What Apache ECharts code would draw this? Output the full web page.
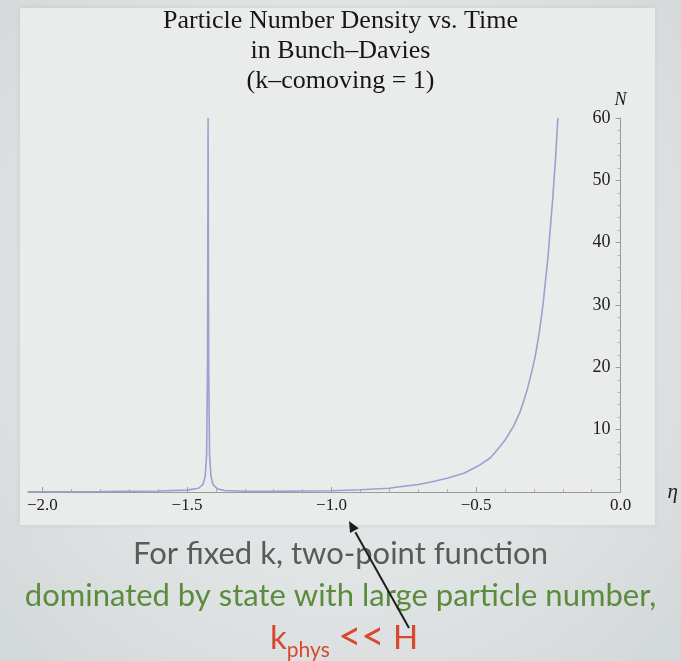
<!DOCTYPE html>
<html>
<head>
<meta charset="utf-8">
<script src="https://cdn.jsdelivr.net/npm/echarts@6/dist/echarts.min.js"></script>
<style>
html,body{margin:0;padding:0;width:681px;height:661px;overflow:hidden;
background:radial-gradient(ellipse at 50% 45%, #e8eaea 0%, #e1e4e4 55%, #d2d7d9 100%);}
#c{width:681px;height:661px;}
</style>
</head>
<body>
<div id="c"></div>
<script>
// conformal time eta and particle number N
const eta = [-2.05,-1.8,-1.6,-1.5,-1.46,-1.445,-1.437,-1.432,-1.429,-1.427,-1.425,-1.422,-1.417,-1.41,-1.395,-1.37,-1.3,-1.2,-1.1,-1.0,-0.9,-0.8,-0.77,-0.7,-0.656,-0.6,-0.542,-0.5,-0.485,-0.45,-0.428,-0.4,-0.371,-0.35,-0.337,-0.322,-0.308,-0.295,-0.28,-0.268,-0.251,-0.234,-0.225,-0.217];
const N   = [0.05,0.08,0.15,0.3,0.6,1.2,2.5,6,20,60,20,6,2.5,1.2,0.5,0.25,0.12,0.1,0.15,0.2,0.35,0.6,0.8,1.2,1.6,2.2,3.0,4.0,4.4,5.5,6.7,8.3,10.5,12.6,14.3,16.6,19.2,21.8,26,30.2,37.8,47.5,53.5,60];
const xTicks = [-2.0,-1.5,-1.0,-0.5,0.0];
const xMinor = [-1.9,-1.8,-1.7,-1.6,-1.4,-1.3,-1.2,-1.1,-0.9,-0.8,-0.7,-0.6,-0.4,-0.3,-0.2,-0.1];
const titleLines = ['Particle Number Density vs. Time','in Bunch\u2013Davies','(k\u2013comoving = 1)'];

const pts = eta.map((e,i)=>[e,N[i]]);
const serif = '"Liberation Serif", "DejaVu Serif", serif';
const sans = 'Lato, "Open Sans", sans-serif';

const chart = echarts.init(document.getElementById('c'), null, {renderer:'canvas'});
const dx = -59, dy = -105, L = Math.hypot(dx,dy), ux = dx/L, uy = dy/L;
const tip = [349,521], hl = 13, hw = 5;
const base = [tip[0]-hl*ux, tip[1]-hl*uy];
chart.setOption({
  backgroundColor: 'transparent',
  animation: false,
  title: {
    text: titleLines.join('\n'),
    left: 'center', top: 1,
    textStyle: {fontFamily: serif, fontSize: 26, fontWeight: 'normal', color: '#161616', lineHeight: 30}
  },
  grid: {left: 28, right: 58, top: 118, bottom: 169, containLabel: false},
  xAxis: [{
    type: 'value', min: -2.05, max: 0, position: 'bottom',
    name: '\u03b7', nameLocation: 'end', nameGap: 47,
    nameTextStyle: {fontFamily: serif, fontStyle: 'italic', fontSize: 21, color: '#222', verticalAlign: 'middle', padding:[0,0,4,0]},
    axisLine: {show: true, lineStyle: {color: '#9a9a9a', width: 1}},
    axisTick: {show: true, inside: true, length: 5, customValues: xTicks, lineStyle: {color: '#9a9a9a'}},
    axisLabel: {customValues: xTicks, margin: 5, fontFamily: serif, fontSize: 17, color: '#202020',
      formatter: v => (v < 0 ? '\u2212' + Math.abs(v).toFixed(1) : v.toFixed(1))},
    splitLine: {show: false}
  },{
    type: 'value', min: -2.05, max: 0, position: 'bottom',
    axisLine: {show: false},
    axisTick: {show: true, inside: true, length: 3, customValues: xMinor, lineStyle: {color: '#b0b0b0'}},
    axisLabel: {show: false},
    splitLine: {show: false}
  }],
  yAxis: [{
    type: 'value', min: 0, max: 60, interval: 10, position: 'right',
    name: 'N', nameLocation: 'end', nameGap: 6,
    nameTextStyle: {fontFamily: serif, fontStyle: 'italic', fontSize: 18, color: '#222', align: 'left', padding:[0,0,0,-6]},
    axisLine: {show: true, lineStyle: {color: '#9a9a9a', width: 1}},
    axisTick: {show: true, inside: true, length: 5, lineStyle: {color: '#9a9a9a'}},
    minorTick: {show: true, splitNumber: 5, length: 3, lineStyle: {color: '#b0b0b0'}},
    axisLabel: {inside: true, margin: 10, fontFamily: serif, fontSize: 18, color: '#202020', showMinLabel: false,
      formatter: v => v === 0 ? '' : String(v)},
    splitLine: {show: false}
  }],
  series: [{
    type: 'line', data: pts, showSymbol: false, smooth: false, clip: true,
    lineStyle: {color: '#9d9fd0', width: 1.6}, z: 5
  }],
  graphic: [
    {type: 'rect', z: -10, silent: true, shape: {x: 20, y: 8, width: 635, height: 517},
     style: {fill: '#eaecec', shadowBlur: 6, shadowColor: 'rgba(0,0,0,0.08)'}},
    {type: 'text', left: 'center', top: 538, style: {text: 'For fixed k, two-point function',
      font: '400 31px ' + sans, fill: '#5a5a5a'}},
    {type: 'text', left: 'center', top: 580, style: {text: 'dominated by state with large particle number,',
      font: '400 31px ' + sans, fill: '#5b8c3c'}},
    {type: 'text', left: 270, top: 617, style: {
      text: '{k|k}{s|phys}{k| }{g|<<}{k| H}',
      rich: {k: {font: '400 33px ' + sans, fill: '#d9472f', verticalAlign: 'bottom'},
             g: {font: '400 40px ' + sans, fill: '#d9472f', verticalAlign: 'bottom', padding:[0,0,-2,0]},
             s: {font: '400 21px ' + sans, fill: '#d9472f', verticalAlign: 'bottom', padding:[0,0,-6,0]}}}},
    {type: 'line', z: 50, shape: {x1: 409, y1: 628, x2: base[0], y2: base[1]},
     style: {stroke: '#1e1e1e', lineWidth: 2}},
    {type: 'polygon', z: 50, shape: {points: [tip,
       [base[0]+hw*(-uy)+2*ux, base[1]+hw*ux+2*uy],
       [base[0]-hw*(-uy)+2*ux, base[1]-hw*ux+2*uy]]},
     style: {fill: '#1e1e1e'}}
  ]
});
</script>
</body>
</html>
